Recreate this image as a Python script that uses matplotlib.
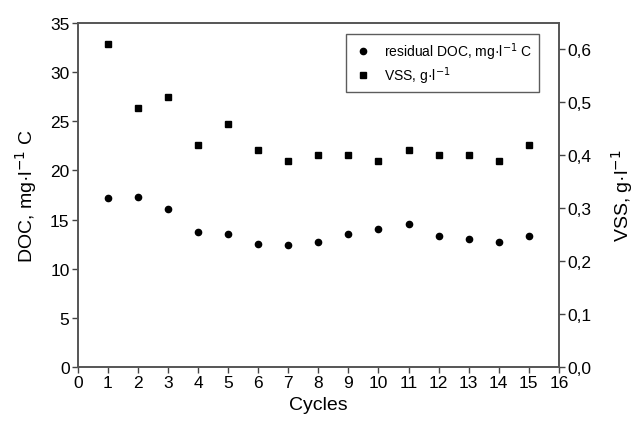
import matplotlib.pyplot as plt
from matplotlib.ticker import FuncFormatter

plt.rcParams['font.family'] = ['Liberation Sans', 'DejaVu Sans']

# values
cycles = [1, 2, 3, 4, 5, 6, 7, 8, 9, 10, 11, 12, 13, 14, 15]
doc = [17.2, 17.3, 16.1, 13.7, 13.5, 12.5, 12.4, 12.7, 13.5, 14.0, 14.5, 13.3, 13.0, 12.7, 13.3]
vss = [0.61, 0.49, 0.51, 0.42, 0.46, 0.41, 0.39, 0.40, 0.40, 0.39, 0.41, 0.40, 0.40, 0.39, 0.42]

fig = plt.figure(figsize=(6.38, 4.27), dpi=100)
ax = fig.add_axes([0.122, 0.138, 0.754, 0.806])
ax2 = ax.twinx()

h1, = ax.plot(cycles, doc, 'o', color='black', markersize=4.5, linestyle='none',
              label='residual DOC, mg\u00b7l$^{-1}$ C')
h2, = ax2.plot(cycles, vss, 's', color='black', markersize=5, linestyle='none',
               label='VSS, g\u00b7l$^{-1}$')

ax.set_xlim(0, 16)
ax.set_ylim(0, 35)
ax2.set_ylim(0, 0.65)
ax.set_xticks(range(0, 17))
ax.set_yticks(range(0, 36, 5))
ax2.set_yticks([0, 0.1, 0.2, 0.3, 0.4, 0.5, 0.6])
ax2.yaxis.set_major_formatter(FuncFormatter(lambda v, p: f'{v:.1f}'.replace('.', ',')))

for a in (ax, ax2):
    a.tick_params(direction='out', length=4, width=1, color='#444444', labelsize=12.5, pad=2)
    for s in a.spines.values():
        s.set_color('#555555')
        s.set_linewidth(1.2)

ax.set_xlabel('Cycles', fontsize=14, labelpad=4)
ax.set_ylabel('DOC, mg\u00b7l$^{-1}$ C', fontsize=14, labelpad=8)
ax2.set_ylabel('VSS, g\u00b7l$^{-1}$', fontsize=14, labelpad=13)

leg = ax.legend(handles=[h1, h2], loc='upper right', bbox_to_anchor=(0.958, 0.967),
                borderaxespad=0, fontsize=10, frameon=True, fancybox=False,
                handletextpad=0.8, borderpad=0.45, labelspacing=0.15, handlelength=1.5)
leg.get_frame().set_edgecolor('#333333')
leg.get_frame().set_linewidth(1.0)

fig.savefig('out.png', dpi=100)
